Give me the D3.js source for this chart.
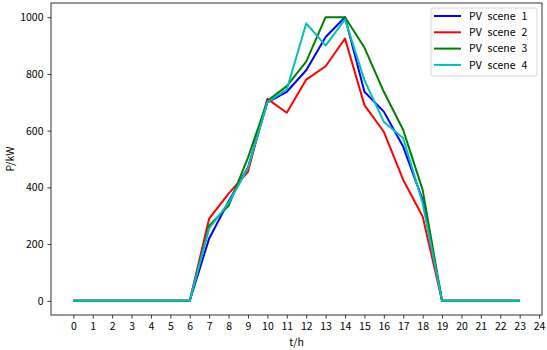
<!DOCTYPE html>
<html>
<head>
<meta charset="utf-8">
<script src="https://cdn.jsdelivr.net/npm/d3@7"></script>
<style>
  body { margin: 0; background: #fff; }
  #chart { width: 547px; height: 350px; }
  text { font-family: "Noto Sans CJK SC", "DejaVu Sans", sans-serif; }
</style>
</head>
<body>
<div id="chart"></div>
<script>
const hours = d3.range(0, 24);
const xTicks = d3.range(0, 25);
const yTicks = [0, 200, 400, 600, 800, 1000];

const scene1 = [0,0,0,0,0,0,0,220,350,470,700,737,813,930,1000,737,667,543,356,0,0,0,0,0];
const scene2 = [0,0,0,0,0,0,0,290,378,455,712,663,780,827,925,690,596,426,297,0,0,0,0,0];
const scene3 = [0,0,0,0,0,0,0,265,335,505,705,757,843,1000,1000,893,737,602,391,0,0,0,0,0];
const scene4 = [0,0,0,0,0,0,0,255,345,468,700,745,978,900,992,778,631,573,345,0,0,0,0,0];

const seriesNames = ["PV scene 1", "PV scene 2", "PV scene 3", "PV scene 4"];
const seriesColors = ["#0000ff", "#ff0000", "#008000", "#00bfbf"];
const seriesValues = [scene1, scene2, scene3, scene4];

function draw(rootDOM) {
	const W = 547, H = 350;
	const m = {t:3, r:5, b:35, l:51};

	const svg = d3.select(rootDOM).append("svg")
		.attr("width", W)
		.attr("height", H);

	const x = d3.scaleLinear()
		.domain([-1.15, 24.15])
		.range([m.l, W - m.r]);

	const y = d3.scaleLinear()
		.domain([-50, 1050])
		.range([H - m.b, m.t]);

	const line = d3.line()
		.x((d, i) => x(hours[i]))
		.y(d => y(d));

	svg.append("g")
		.selectAll("path")
		.data(seriesValues)
		.enter()
		.append("path")
		.attr("d", line)
		.attr("fill", "none")
		.attr("stroke", (d, i) => seriesColors[i])
		.attr("stroke-width", 2)
		.attr("stroke-linejoin", "round");

	// axes
	const xAxis = svg.append("g")
		.attr("transform", `translate(0,${H - m.b})`)
		.call(d3.axisBottom(x).tickValues(xTicks).tickFormat(d3.format("d")).tickSize(3.5).tickPadding(4));

	const yAxis = svg.append("g")
		.attr("transform", `translate(${m.l},0)`)
		.call(d3.axisLeft(y).tickValues(yTicks).tickFormat(d3.format("d")).tickSize(3.5).tickPadding(4));

	[xAxis, yAxis].forEach(a => {
		a.select(".domain").remove();
		a.selectAll("line").attr("stroke", "#000").attr("stroke-width", 0.8);
		a.selectAll("text").attr("font-size", 10.5).attr("fill", "#000")
			.style("font-family", "'Noto Sans CJK SC', sans-serif");
	});

	// frame
	svg.append("rect")
		.attr("x", m.l)
		.attr("y", m.t)
		.attr("width", W - m.r - m.l)
		.attr("height", H - m.b - m.t)
		.attr("fill", "none")
		.attr("stroke", "#333")
		.attr("stroke-width", 1);

	svg.append("text")
		.attr("x", (m.l + W - m.r) / 2)
		.attr("y", 346)
		.attr("text-anchor", "middle")
		.attr("font-size", 10.5)
		.text("t/h");

	svg.append("text")
		.attr("transform", "translate(14,159) rotate(-90)")
		.attr("text-anchor", "middle")
		.attr("font-size", 10.5)
		.text("P/kW");

	// legend
	const lg = svg.append("g").attr("transform", "translate(431,8)");
	lg.append("rect")
		.attr("width", 106)
		.attr("height", 68)
		.attr("rx", 2)
		.attr("fill", "#fff")
		.attr("fill-opacity", 0.8)
		.attr("stroke", "#ccc")
		.attr("stroke-width", 0.8);

	const items = lg.selectAll(".item")
		.data(seriesNames)
		.enter()
		.append("g")
		.attr("class", "item")
		.attr("transform", (d, i) => `translate(0,${8 + i * 16.3})`);

	items.append("line")
		.attr("x1", 3).attr("x2", 30)
		.attr("stroke", (d, i) => seriesColors[i])
		.attr("stroke-width", 2);

	items.append("text")
		.attr("x", 38)
		.attr("dy", "0.35em")
		.attr("font-size", 10.5)
		.style("word-spacing", "3.5px")
		.text(d => d);
}

draw(document.getElementById("chart"));
</script>
</body>
</html>
